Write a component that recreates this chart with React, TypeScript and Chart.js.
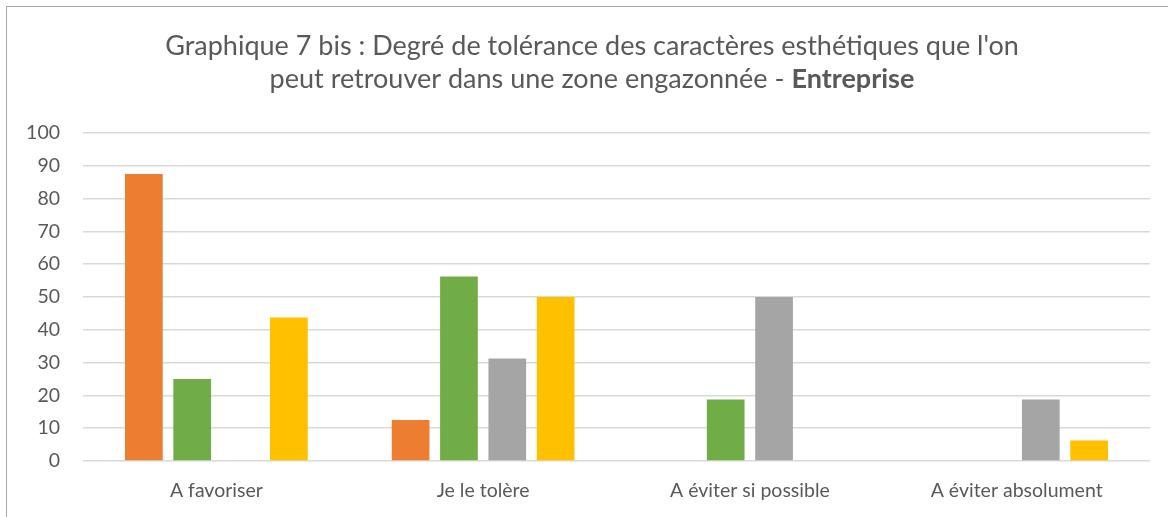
import React, { useEffect, useRef } from "react";
import { Chart, registerables } from "chart.js";

Chart.register(...registerables);

const categories = ["A favoriser", "Je le tolère", "A éviter si possible", "A éviter absolument"];
const seriesNames = ["Série 1", "Série 2", "Série 3", "Série 4"];
const series1 = [87.5, 12.5, 0, 0];
const series2 = [25, 56.25, 18.75, 0];
const series3 = [0, 31.25, 50, 18.75];
const series4 = [43.75, 50, 0, 6.25];
const seriesColors = ["#ED7D31", "#70AD47", "#A5A5A5", "#FFC000"];
const yMin = 0;
const yMax = 100;
const yStep = 10;
const titleLine1 = "Graphique 7 bis : Degré de tolérance des caractères esthétiques que l'on";
const titleLine2Regular = "peut retrouver dans une zone engazonnée - ";
const titleLine2Bold = "Entreprise";

const FONT = "Lato, 'Open Sans', sans-serif";
const TEXT_COLOR = "#595959";
const TITLE_SIZE = 27;
const TICK_SIZE = 19.5;

const titlePlugin = {
  id: "mixedTitle",
  afterDraw(chart: any) {
    const ctx = chart.ctx;
    const cx = 592;
    ctx.save();
    ctx.fillStyle = TEXT_COLOR;
    ctx.textBaseline = "alphabetic";
    ctx.font = `${TITLE_SIZE}px ${FONT}`;
    ctx.textAlign = "center";
    ctx.fillText(titleLine1, cx, 55);
    ctx.textAlign = "left";
    const wReg = ctx.measureText(titleLine2Regular).width;
    ctx.font = `bold ${TITLE_SIZE}px ${FONT}`;
    const wBold = ctx.measureText(titleLine2Bold).width;
    const startX = cx - (wReg + wBold) / 2;
    ctx.font = `${TITLE_SIZE}px ${FONT}`;
    ctx.fillText(titleLine2Regular, startX, 88);
    ctx.font = `bold ${TITLE_SIZE}px ${FONT}`;
    ctx.fillText(titleLine2Bold, startX + wReg, 88);
    ctx.restore();
  },
};

export default function App() {
  const canvasRef = useRef<HTMLCanvasElement | null>(null);

  useEffect(() => {
    if (!canvasRef.current) return;
    const allSeries = [series1, series2, series3, series4];
    const chart = new Chart(canvasRef.current, {
      type: "bar",
      data: {
        labels: categories,
        datasets: allSeries.map((s, i) => ({
          label: seriesNames[i],
          data: s,
          backgroundColor: seriesColors[i],
          borderWidth: 0,
          categoryPercentage: 0.725,
          barPercentage: 0.78,
        })),
      },
      options: {
        animation: false,
        responsive: true,
        maintainAspectRatio: false,
        layout: { padding: { left: 0, right: 18, top: 133, bottom: 0 } },
        plugins: {
          legend: { display: false },
          title: { display: false },
          tooltip: { enabled: false },
        },
        scales: {
          x: {
            grid: { display: false, drawTicks: false },
            border: { display: false },
            ticks: {
              color: TEXT_COLOR,
              font: { family: FONT, size: TICK_SIZE },
              padding: 18,
              maxRotation: 0,
            },
            afterFit(scale: any) {
              scale.height = 56;
            },
          },
          y: {
            min: yMin,
            max: yMax,
            grid: { color: "#d9d9d9", lineWidth: 1.5, drawTicks: false },
            border: { display: false },
            ticks: {
              stepSize: yStep,
              color: TEXT_COLOR,
              font: { family: FONT, size: TICK_SIZE },
              padding: 23,
            },
            afterFit(scale: any) {
              scale.width = 83;
            },
          },
        },
      },
      plugins: [titlePlugin],
    });
    return () => chart.destroy();
  }, []);

  return (
    <div
      style={{
        position: "absolute",
        left: 0,
        top: 0,
        width: 1168,
        height: 517,
        overflow: "hidden",
        background: "#ffffff",
      }}
    >
      <div
        style={{
          position: "absolute",
          left: 6,
          top: 6,
          width: 1400,
          height: 800,
          border: "1px solid #a6a6a6",
          boxSizing: "border-box",
        }}
      />
      <div style={{ position: "absolute", left: 0, top: 0, width: 1168, height: 517 }}>
        <canvas ref={canvasRef} />
      </div>
    </div>
  );
}
